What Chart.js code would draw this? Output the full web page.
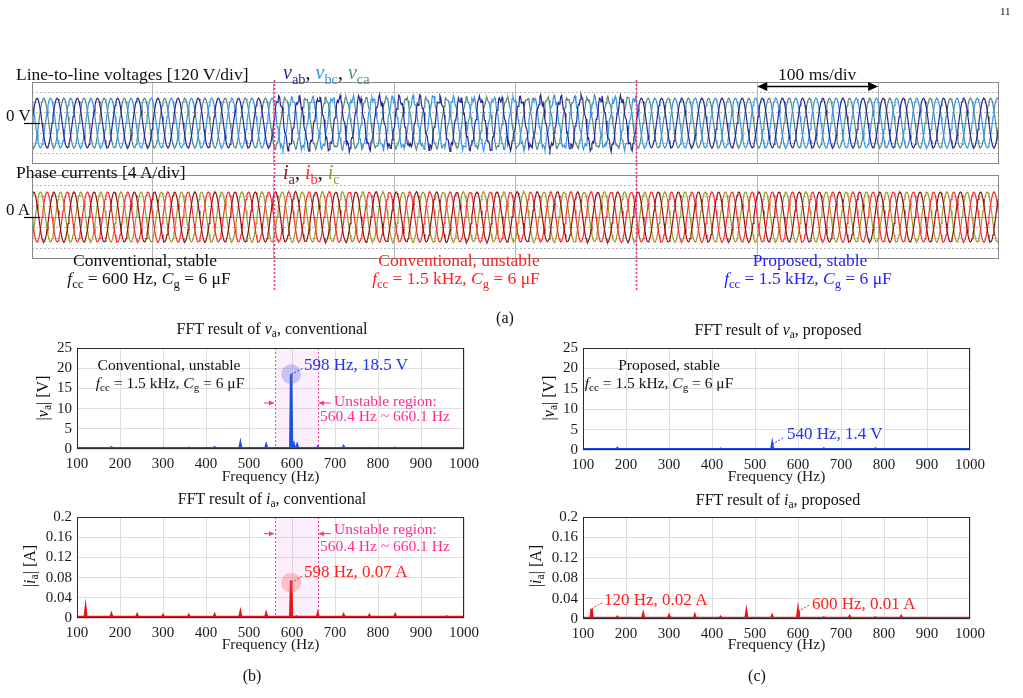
<!DOCTYPE html>
<html><head><meta charset="utf-8">
<script src="https://cdn.jsdelivr.net/npm/chart.js@4.4.1/dist/chart.umd.min.js"></script>
<style>
html,body{margin:0;padding:0;background:#fff;}
body{width:1023px;height:698px;position:relative;overflow:hidden;font-family:"Liberation Serif","Times New Roman",serif;color:#111;}
canvas{position:absolute;}
.t{position:absolute;white-space:nowrap;line-height:1;}
.t i{font-style:italic;}
.t sub{font-size:72%;vertical-align:baseline;position:relative;top:0.3em;line-height:0;}
#ov{position:absolute;left:0;top:0;pointer-events:none;}
</style></head><body>
<script>
// ---------------- DATA ----------------
// oscilloscope (a)
const scopeDivMs = [0,100,200,300,400,500,600,700,800];
const scopeDivY = [-4,-3,-2,-1,0,1,2,3,4];
const unstableStartMs = 200, unstableEndMs = 500;
const cyclesShown = 48;               // 60 Hz over 800 ms
const sineCycle24 = [0,0.259,0.5,0.707,0.866,0.966,1,0.966,0.866,0.707,0.5,0.259,
                     0,-0.259,-0.5,-0.707,-0.866,-0.966,-1,-0.966,-0.866,-0.707,-0.5,-0.259];
const phaseShiftSamples = [0, 8, 16];
const voltAmpDiv = 2.42, currAmpDiv = 2.38;
const ripplePattern = [0.55,-0.35,-0.6,0.25,0.7,-0.15,-0.65,0.45,0.35,-0.7,-0.2,0.6,0.5,-0.45,-0.55,0.3,0.65,-0.25,-0.7,0.15,0.6,0.05,-0.6,0.55,0.25,-0.65,-0.3,0.7,0.4,-0.5,-0.5,0.35,0.6,-0.2,-0.7,0.45,0.2,-0.55,-0.1,0.65,0.3];
const voltRippleScale = [0.55, 0.45, 0.28];
const currRippleScale = [0.06, 0.06, 0.06];
const rippleOffsets = [0, 13, 27];

// FFT (b), (c)
const freqTicks = [100,200,300,400,500,600,700,800,900,1000];
const voltFftTicks = [0,5,10,15,20,25];
const currFftTicks = [0,0.04,0.08,0.12,0.16,0.2];
const unstableRegionHz = [560.4, 660.1];

const vConvFloor = 0.2;
const vConvHz = [120,180,300,360,420,480,540,598,604,612,660,720,780,840];
const vConvV  = [0.25,0.4,0.25,0.3,0.4,1.3,0.9,18.5,1.2,0.9,0.5,0.6,0.25,0.3];

const iConvFloor = 0.0018;
const iConvHz = [120,180,240,300,360,420,480,540,598,610,660,720,780,840,960];
const iConvA  = [0.017,0.007,0.006,0.005,0.005,0.006,0.01,0.008,0.074,0.003,0.008,0.006,0.005,0.006,0.003];

const vPropFloor = 0.18;
const vPropHz = [180,420,540,660,780];
const vPropV  = [0.45,0.3,1.4,0.35,0.35];

const iPropFloor = 0.0018;
const iPropHz = [120,180,240,300,360,420,480,540,600,660,720,780,840];
const iPropA  = [0.02,0.004,0.009,0.006,0.007,0.004,0.013,0.006,0.015,0.003,0.005,0.003,0.005];

// ---------------- HELPERS ----------------
const FONT = '"Liberation Serif","Times New Roman",serif';
function mk(id, left, top, w, h) {
  const c = document.createElement('canvas');
  c.id = id; c.width = w; c.height = h;
  c.style.left = left + 'px'; c.style.top = top + 'px';
  c.style.width = w + 'px'; c.style.height = h + 'px';
  document.body.appendChild(c);
  return c;
}
function txt(html, x, base, size, color, align) {
  const d = document.createElement('div');
  d.className = 't';
  d.innerHTML = html;
  d.style.fontSize = size + 'px';
  d.style.top = (base - 0.8375 * size) + 'px';
  d.style.left = x + 'px';
  if (color) d.style.color = color;
  if (align === 'center') d.style.transform = 'translateX(-50%)';
  document.body.appendChild(d);
  return d;
}
function vtxt(html, cx, cy, size) {
  const d = document.createElement('div');
  d.className = 't';
  d.innerHTML = html;
  d.style.fontSize = size + 'px';
  d.style.left = cx + 'px'; d.style.top = cy + 'px';
  d.style.transform = 'translate(-50%,-50%) rotate(-90deg)';
  document.body.appendChild(d);
}
function scopeSeries(amp, shift, rScale, rOff) {
  const pts = [];
  const n = cyclesShown * sineCycle24.length;
  for (let k = 0; k <= n; k++) {
    const t = k * 800 / n;
    let v = amp * sineCycle24[(k + shift) % sineCycle24.length];
    if (t > unstableStartMs && t < unstableEndMs) v += rScale * ripplePattern[(k + rOff) % ripplePattern.length];
    pts.push({x: t, y: v});
  }
  return pts;
}
function spectrum(floor, hz, amp) {
  const pts = [{x: 100, y: floor}];
  hz.forEach((f, i) => { pts.push({x: f - 2, y: floor}, {x: f, y: amp[i]}, {x: f + 2, y: floor}); });
  pts.push({x: 1000, y: floor});
  return pts;
}

// ---------------- PLUGINS ----------------
const scopeDecor = {
  id: 'scopeDecor',
  beforeDatasetsDraw(chart) {
    const {ctx, chartArea: a, scales: {y}} = chart;
    const y0 = Math.round(y.getPixelForValue(0)) + 0.5;
    ctx.save(); ctx.strokeStyle = '#9c9c9c'; ctx.lineWidth = 1;
    ctx.beginPath(); ctx.moveTo(a.left, y0); ctx.lineTo(a.right, y0); ctx.stroke();
    ctx.restore();
  },
  afterDraw(chart) {
    const {ctx, chartArea: a} = chart;
    ctx.save(); ctx.strokeStyle = '#8a8a8a'; ctx.lineWidth = 1;
    ctx.strokeRect(Math.round(a.left) + 0.5, Math.round(a.top) + 0.5, Math.round(a.width) - 1, Math.round(a.height) - 1);
    ctx.restore();
  }
};
function arrow(ctx, x0, y0, x1, y1, color) {
  ctx.save(); ctx.strokeStyle = color; ctx.fillStyle = color; ctx.lineWidth = 1; ctx.setLineDash([]);
  ctx.beginPath(); ctx.moveTo(x0, y0); ctx.lineTo(x1, y1); ctx.stroke();
  const dir = Math.sign(x1 - x0);
  ctx.beginPath(); ctx.moveTo(x1, y1); ctx.lineTo(x1 - dir * 5, y1 - 2.5); ctx.lineTo(x1 - dir * 5, y1 + 2.5); ctx.closePath(); ctx.fill();
  ctx.restore();
}
const fftDecor = {
  id: 'fftDecor',
  beforeDatasetsDraw(chart, args, o) {
    const {ctx, chartArea: a, scales: {x}} = chart;
    if (o && o.region) {
      const x0 = x.getPixelForValue(o.region[0]), x1 = x.getPixelForValue(o.region[1]);
      ctx.save();
      ctx.fillStyle = 'rgba(236,140,236,0.14)';
      ctx.fillRect(x0, a.top, x1 - x0, a.height);
      ctx.strokeStyle = '#ff3d9a'; ctx.lineWidth = 1; ctx.setLineDash([2, 2]);
      [x0, x1].forEach(px => { ctx.beginPath(); ctx.moveTo(Math.round(px) + 0.5, a.top); ctx.lineTo(Math.round(px) + 0.5, a.bottom); ctx.stroke(); });
      ctx.restore();
    }
  },
  afterDatasetsDraw(chart, args, o) {
    const {ctx, chartArea: a, scales: {x, y}} = chart;
    ctx.save();
    if (o && o.region) {
      const x0 = x.getPixelForValue(o.region[0]), x1 = x.getPixelForValue(o.region[1]);
      const ay = y.getPixelForValue(o.arrowY);
      arrow(ctx, x0 - 11, ay, x0 - 1, ay, '#ff2d8f');
      arrow(ctx, x1 + 13, ay, x1 + 1, ay, '#ff2d8f');
    }
    ((o && o.marks) || []).forEach(m => {
      const px = x.getPixelForValue(m.hz), py = y.getPixelForValue(m.val);
      if (m.circle) { ctx.fillStyle = m.circle; ctx.beginPath(); ctx.arc(px, py, 10, 0, 2 * Math.PI); ctx.fill(); }
      ctx.strokeStyle = m.color; ctx.lineWidth = 1; ctx.setLineDash([2, 1.5]);
      ctx.beginPath(); ctx.moveTo(px, py); ctx.lineTo(px + m.dx, py + m.dy); ctx.stroke();
    });
    ctx.setLineDash([]); ctx.strokeStyle = '#2a2a2a'; ctx.lineWidth = 1;
    ctx.strokeRect(Math.round(a.left) + 0.5, Math.round(a.top) + 0.5, Math.round(a.width) - 1, Math.round(a.height) - 1);
    ctx.restore();
  }
};

// ---------------- CHARTS ----------------
function scopeChart(id, box, datasets) {
  const cv = mk(id, box.left, box.top, box.w, box.h);
  return new Chart(cv, {
    type: 'line',
    data: {datasets: datasets.map(d => ({data: d.data, borderColor: d.color, borderWidth: 1.2, pointRadius: 0, tension: 0, fill: false}))},
    options: {
      responsive: false, animation: false, devicePixelRatio: 1, events: [],
      layout: {padding: 0},
      plugins: {legend: {display: false}, tooltip: {enabled: false}},
      scales: {
        x: {type: 'linear', min: 0, max: 800,
            afterBuildTicks: s => { s.ticks = scopeDivMs.map(v => ({value: v})); },
            afterFit: s => { s.height = 0; },
            ticks: {display: false}, grid: {color: '#b6b6b6', drawTicks: false}, border: {display: false}},
        y: {type: 'linear', min: -4, max: 4,
            afterBuildTicks: s => { s.ticks = scopeDivY.map(v => ({value: v})); },
            afterFit: s => { s.width = 0; },
            ticks: {display: false}, grid: {color: '#b8b8b8', drawTicks: false}, border: {display: false, dash: [2, 2]}}
      }
    },
    plugins: [scopeDecor]
  });
}

const vColors = ['#26268f', '#3594e8', '#4f8a82'];
const iColors = ['#8e1414', '#ff2a2a', '#9c9a22'];
const vChart = scopeChart('scopeV', {left: 32, top: 82, w: 967, h: 82},
  [0, 1, 2].map(p => ({color: vColors[p], data: scopeSeries(voltAmpDiv, phaseShiftSamples[p], voltRippleScale[p], rippleOffsets[p])})));
const iChart = scopeChart('scopeI', {left: 32, top: 175, w: 967, h: 84},
  [0, 1, 2].map(p => ({color: iColors[p], data: scopeSeries(currAmpDiv, phaseShiftSamples[p] + 4, currRippleScale[p], rippleOffsets[p])})));

function fftChart(id, box, series, color, yTicks, yFmt, decor) {
  const cv = mk(id, box.left, box.top, box.w, box.h);
  return new Chart(cv, {
    type: 'line',
    data: {datasets: [{data: series, borderColor: color, borderWidth: 2.5, pointRadius: 0, tension: 0, fill: false}]},
    options: {
      responsive: false, animation: false, devicePixelRatio: 1, events: [],
      layout: {padding: {top: 10, right: 18, left: 0, bottom: 0}},
      plugins: {legend: {display: false}, tooltip: {enabled: false}, fftDecor: decor},
      scales: {
        x: {type: 'linear', min: 100, max: 1000,
            afterBuildTicks: s => { s.ticks = freqTicks.map(v => ({value: v})); },
            afterFit: s => { s.height = box.xh; },
            grid: {color: '#dedede', drawTicks: false}, border: {display: false},
            ticks: {font: {family: FONT, size: 15}, color: '#1a1a1a', padding: 6, maxRotation: 0, autoSkip: false, callback: v => String(v)},
            title: {display: true, text: 'Frequency (Hz)', font: {family: FONT, size: 15.5}, color: '#1a1a1a', padding: {top: 0, bottom: 4}}},
        y: {type: 'linear', min: yTicks[0], max: yTicks[yTicks.length - 1],
            afterBuildTicks: s => { s.ticks = yTicks.map(v => ({value: v})); },
            afterFit: s => { s.width = 57; },
            grid: {color: '#dedede', drawTicks: false}, border: {display: false},
            ticks: {font: {family: FONT, size: 15}, color: '#1a1a1a', padding: 5, autoSkip: false, callback: yFmt}}
      }
    },
    plugins: [fftDecor]
  });
}
const fmtV = v => String(v);
const fmtI = v => (v === 0 ? '0' : String(+v.toFixed(2)));
const BLUE_LINE = '#1e50e0', RED_LINE = '#e6141c';

fftChart('fftVConv', {left: 20, top: 334, w: 465, h: 156, xh: 41}, spectrum(vConvFloor, vConvHz, vConvV), BLUE_LINE, voltFftTicks, fmtV,
  {region: unstableRegionHz, arrowY: 11.4, marks: [{hz: 598, val: 18.5, circle: 'rgba(90,105,230,0.32)', color: '#2233ee', dx: 12, dy: -6}]});
fftChart('fftIConv', {left: 20, top: 503, w: 465, h: 155, xh: 40}, spectrum(iConvFloor, iConvHz, iConvA), RED_LINE, currFftTicks, fmtI,
  {region: unstableRegionHz, arrowY: 0.167, marks: [{hz: 598, val: 0.07, circle: 'rgba(255,90,90,0.32)', color: '#ff2020', dx: 12, dy: -7}]});
fftChart('fftVProp', {left: 526, top: 334, w: 465, h: 156, xh: 40}, spectrum(vPropFloor, vPropHz, vPropV), BLUE_LINE, voltFftTicks, fmtV,
  {marks: [{hz: 540, val: 1.4, color: '#2233ee', dx: 12, dy: -7}]});
fftChart('fftIProp', {left: 526, top: 503, w: 465, h: 155, xh: 39}, spectrum(iPropFloor, iPropHz, iPropA), RED_LINE, currFftTicks, fmtI,
  {marks: [{hz: 120, val: 0.02, color: '#ff2020', dx: 12, dy: -7}, {hz: 600, val: 0.015, color: '#ff2020', dx: 11, dy: -6}]});

// ---------------- OVERLAY (dividers, markers) ----------------
const NS = 'http://www.w3.org/2000/svg';
const svg = document.createElementNS(NS, 'svg');
svg.setAttribute('id', 'ov'); svg.setAttribute('width', 1023); svg.setAttribute('height', 698);
function sv(tag, attrs) { const e = document.createElementNS(NS, tag); for (const k in attrs) e.setAttribute(k, attrs[k]); svg.appendChild(e); return e; }
[unstableStartMs, unstableEndMs].forEach(t => {
  const px = Math.round(32 + vChart.scales.x.getPixelForValue(t)) + 0.5;
  sv('line', {x1: px, y1: 80, x2: px, y2: 290, stroke: '#ff2d8f', 'stroke-width': 1.6, 'stroke-dasharray': '2 2'});
});
const y0V = 82 + Math.round(vChart.scales.y.getPixelForValue(0)) + 0.5;
const y0I = 175 + Math.round(iChart.scales.y.getPixelForValue(0)) + 0.5;
sv('line', {x1: 24, y1: y0V, x2: 40, y2: y0V, stroke: '#000', 'stroke-width': 1.2});
sv('line', {x1: 24, y1: y0I, x2: 40, y2: y0I, stroke: '#000', 'stroke-width': 1.2});
const xd0 = 32 + vChart.scales.x.getPixelForValue(600), xd1 = 32 + vChart.scales.x.getPixelForValue(700);
sv('line', {x1: xd0 + 6, y1: 86.5, x2: xd1 - 6, y2: 86.5, stroke: '#000', 'stroke-width': 1.3});
sv('polygon', {points: `${xd0},86.5 ${xd0 + 10},82 ${xd0 + 10},91`, fill: '#000'});
sv('polygon', {points: `${xd1},86.5 ${xd1 - 10},82 ${xd1 - 10},91`, fill: '#000'});
document.body.appendChild(svg);

// ---------------- TEXT ----------------
const RED = '#ff2020', BLUE = '#1f1fff', PINK = '#ff2d8f', TBLUE = '#2233ee';
txt('11', 1000, 15, 11);
txt('Line-to-line voltages [120 V/div]', 16, 81, 17.5);
txt(`<span style="color:#2a2a9a"><i>v</i><sub>ab</sub></span>, <span style="color:#3a96e6"><i>v</i><sub>bc</sub></span>, <span style="color:#4e8c84"><i>v</i><sub>ca</sub></span>`, 283, 79, 20);
txt('100 ms/div', 778, 81, 17.5);
txt('0 V', 6, 121, 17);
txt('Phase currents [4 A/div]', 16, 179, 17.5);
txt(`<span style="color:#8e1414"><i>i</i><sub>a</sub></span>, <span style="color:#ff2a2a"><i>i</i><sub>b</sub></span>, <span style="color:#9c9a22"><i>i</i><sub>c</sub></span>`, 283, 179, 20);
txt('0 A', 6, 215, 17);
txt('Conventional, stable', 145, 267, 17.5, null, 'center');
txt('<i>f</i><sub>cc</sub> = 600 Hz, <i>C</i><sub>g</sub> = 6 μF', 149, 285, 17.5, null, 'center');
txt('Conventional, unstable', 459, 267, 17.5, RED, 'center');
txt('<i>f</i><sub>cc</sub> = 1.5 kHz, <i>C</i><sub>g</sub> = 6 μF', 456, 285, 17.5, RED, 'center');
txt('Proposed, stable', 810, 267, 17.5, BLUE, 'center');
txt('<i>f</i><sub>cc</sub> = 1.5 kHz, <i>C</i><sub>g</sub> = 6 μF', 808, 285, 17.5, BLUE, 'center');
txt('(a)', 505, 323, 16, null, 'center');

txt('FFT result of <i>v</i><sub>a</sub>, conventional', 272, 334, 16, null, 'center');
txt('FFT result of <i>i</i><sub>a</sub>, conventional', 272, 504, 16, null, 'center');
txt('FFT result of <i>v</i><sub>a</sub>, proposed', 778, 335, 16, null, 'center');
txt('FFT result of <i>i</i><sub>a</sub>, proposed', 778, 505, 16, null, 'center');
vtxt('|<i>v</i><sub>a</sub>| [V]', 43, 398, 16);
vtxt('|<i>v</i><sub>a</sub>| [V]', 549, 398, 16);
vtxt('|<i>i</i><sub>a</sub>| [A]', 30, 566, 16);
vtxt('|<i>i</i><sub>a</sub>| [A]', 536, 566, 16);

txt('Conventional, unstable', 169, 370, 15.5, null, 'center');
txt('<i>f</i><sub>cc</sub> = 1.5 kHz, <i>C</i><sub>g</sub> = 6 μF', 170, 388, 15.5, null, 'center');
txt('Proposed, stable', 669, 370, 15.5, null, 'center');
txt('<i>f</i><sub>cc</sub> = 1.5 kHz, <i>C</i><sub>g</sub> = 6 μF', 659, 388, 15.5, null, 'center');

txt('598 Hz, 18.5 V', 304, 370, 17, TBLUE);
txt('Unstable region:', 334, 406, 15.5, PINK);
txt('560.4 Hz ~ 660.1 Hz', 320, 421, 15.5, PINK);
txt('Unstable region:', 334, 534, 15.5, PINK);
txt('560.4 Hz ~ 660.1 Hz', 320, 551, 15.5, PINK);
txt('598 Hz, 0.07 A', 304, 577, 17, RED);
txt('540 Hz, 1.4 V', 787, 439, 17, TBLUE);
txt('120 Hz, 0.02 A', 604, 605, 17, RED);
txt('600 Hz, 0.01 A', 812, 609, 17, RED);
txt('(b)', 252, 681, 16, null, 'center');
txt('(c)', 757, 681, 16, null, 'center');
</script>
</body></html>
